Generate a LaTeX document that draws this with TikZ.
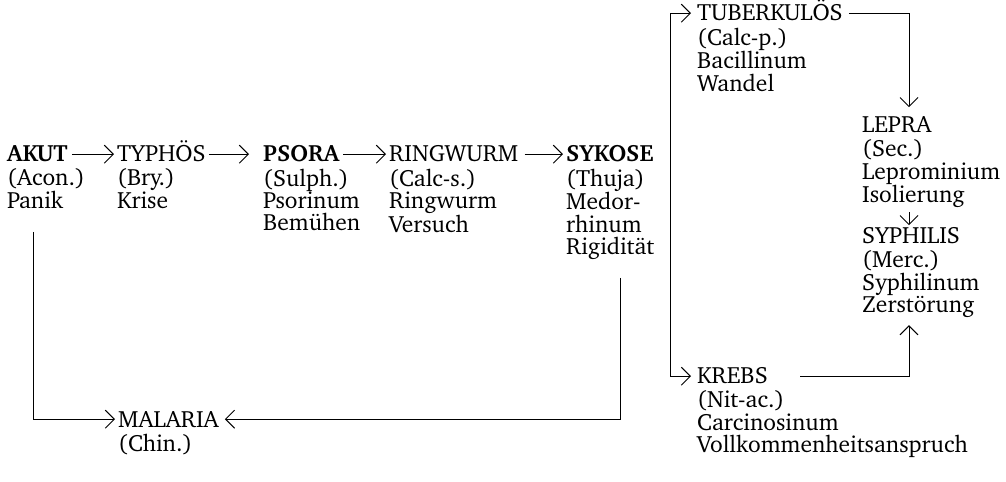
\documentclass[tikz,border=0pt]{standalone}
\usepackage[T1]{fontenc}
\usepackage{charter}
\usetikzlibrary{arrows.meta,calc}

\tikzset{
  stagename/.style={anchor=base west,inner sep=0pt,text height=15.6bp,text depth=0pt},
  stagetext/.style={anchor=north west,inner sep=0pt,align=left,yshift=-6.7bp,execute at begin node={\strut}},
  link/.style={line width=1bp,-{Straight Barb[length=9bp,width=18bp,line width=1bp]}},
  bare/.style={line width=1bp}
}

\begin{document}
\begin{tikzpicture}[x=1bp,y=-1bp,font=\fontsize{23.6}{22.3}\selectfont]
        \useasboundingbox (0,0) rectangle (1006,482);

        \coordinate (akutpos) at (7,162);
        \coordinate (typhpos) at (117,162);
        \coordinate (psorpos) at (263,162);
        \coordinate (ringpos) at (389,162);
        \coordinate (sykpos) at (566,162);
        \coordinate (malpos) at (118,427);
        \coordinate (tubpos) at (697,21);
        \coordinate (leppos) at (862,133);
        \coordinate (syphpos) at (862,244);
        \coordinate (krebpos) at (697,384);
        \coordinate (col) at (909,0);

        \node[stagename] (akut) at (akutpos) {\textbf{AKUT}};
        \node[stagetext] (akutd) at (akut.south west) {(Acon.)\\Panik};
        \node[stagename] (typhos) at (typhpos) {TYPH\"OS};
        \node[stagetext] (typhosd) at (typhos.south west) {(Bry.)\\Krise};
        \node[stagename] (psora) at (psorpos) {\textbf{PSORA}};
        \node[stagetext] (psorad) at (psora.south west) {(Sulph.)\\Psorinum\\Bem\"uhen};
        \node[stagename] (ring) at (ringpos) {RINGWURM};
        \node[stagetext] (ringd) at (ring.south west) {(Calc-s.)\\Ringwurm\\Versuch};
        \node[stagename] (sykose) at (sykpos) {\textbf{SYKOSE}};
        \node[stagetext] (sykosed) at (sykose.south west) {(Thuja)\\Medor-\\rhinum\\Rigidit\"at};
        \node[stagename] (malaria) at (malpos) {MALARIA};
        \node[stagetext] (malariad) at (malaria.south west) {(Chin.)};
        \node[stagename] (tuberk) at (tubpos) {TUBERKUL\"OS};
        \node[stagetext] (tuberkd) at (tuberk.south west) {(Calc-p.)\\Bacillinum\\Wandel};
        \node[stagename] (lepra) at (leppos) {LEPRA};
        \node[stagetext] (leprad) at (lepra.south west) {(Sec.)\\Leprominium\\Isolierung};
        \node[stagename] (syph) at (syphpos) {SYPHILIS};
        \node[stagetext] (syphd) at (syph.south west) {(Merc.)\\Syphilinum\\Zerst\"orung};
        \node[stagename] (krebs) at (krebpos) {KREBS};
        \node[stagetext] (krebsd) at (krebs.south west) {(Nit-ac.)\\Carcinosinum\\Vollkommenheitsanspruch};

        \coordinate (akutdrop) at (33,232);
        \coordinate (sykdrop) at (620,278);
        \coordinate (fork) at (670,200);

        \draw[link] ([xshift=4bp]akut.east) -- ([xshift=-3bp]typhos.west);
        \draw[link] ([xshift=3bp]typhos.east) -- ([xshift=-14bp]psora.west);
        \draw[link] ([xshift=4bp]psora.east) -- ([xshift=-3bp]ring.west);
        \draw[link] ([xshift=6bp]ring.east) -- ([xshift=-3bp]sykose.west);
        \draw[link] (akutdrop) |- ([xshift=-3bp]malaria.west);
        \draw[link] (sykdrop) |- ([xshift=6bp]malaria.east);
        \draw[link] (fork) |- ([xshift=-6bp]tuberk.west);
        \draw[link] (fork) |- ([xshift=-6bp]krebs.east -| krebs.west);
        \draw[link] ([xshift=6bp]tuberk.east) -| ($(lepra.north -| col)+(0,-10)$);
        \draw[link] ($(leprad.south -| col)+(0,3)$) -- ($(syph.north -| col)+(0,-3)$);
        \draw[link] ([xshift=32bp]krebs.east) -| ($(syphd.south -| col)+(0,6)$);
\end{tikzpicture}
\end{document}
